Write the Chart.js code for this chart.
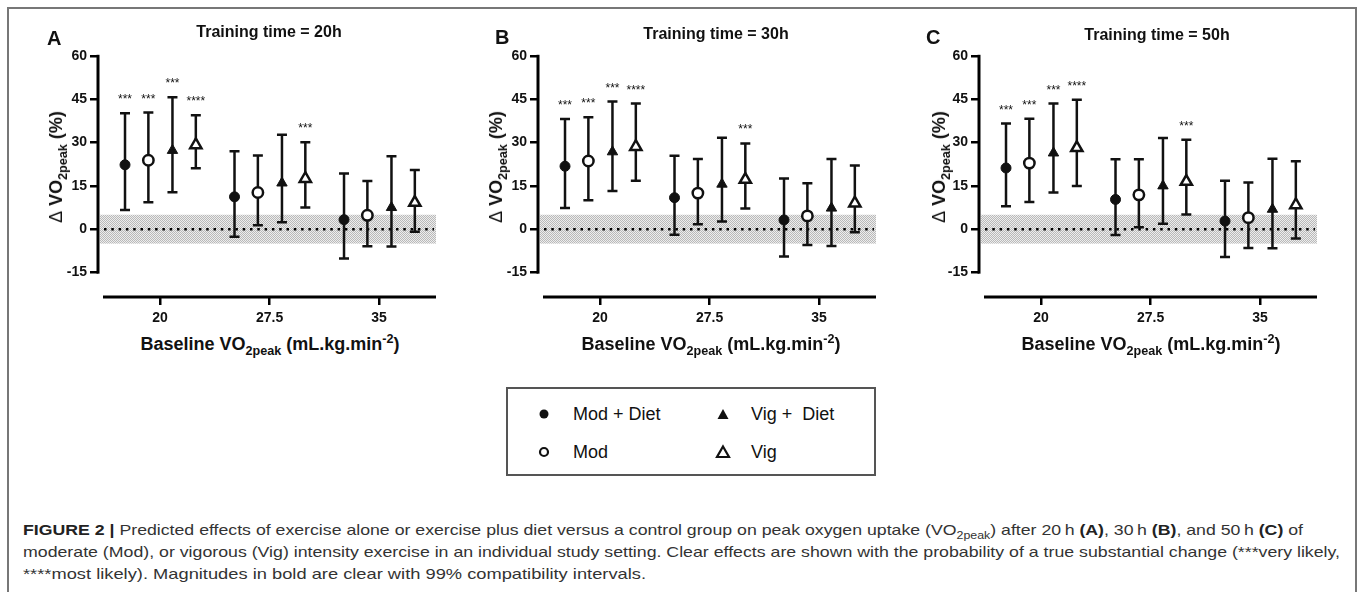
<!DOCTYPE html>
<html>
<head>
<meta charset="utf-8">
<script src="https://cdn.jsdelivr.net/npm/chart.js@4.4.0/dist/chart.umd.min.js"></script>
<style>
  html, body { margin:0; padding:0; background:#fff; }
  body { width:1357px; height:592px; overflow:hidden; position:relative; font-family:"Liberation Sans", Arial, sans-serif; color:#111; }
  .frame { position:absolute; left:7px; top:7px; width:1346px; height:700px; border:2px solid #777; box-sizing:content-box; }
  canvas.panel { position:absolute; top:0; }
  .t { position:absolute; white-space:nowrap; line-height:1; }
  .ptitle { font-weight:bold; font-size:16px; transform:translate(-50%,-50%); }
  .letter { font-weight:bold; font-size:20px; transform:translateY(-50%); }
  .ytitle { font-weight:bold; font-size:18px; transform:translate(-50%,-50%) rotate(-90deg); }
  .xtitle { font-weight:bold; font-size:18px; transform:translate(-50%,-50%); }
  sub, sup { font-size:70%; line-height:0; }
  .legend { position:absolute; left:506px; top:387px; width:366px; height:85px; border:2px solid #555; }
  .lgtext { position:absolute; font-size:18px; transform:translateY(-50%); white-space:nowrap; line-height:1; }
  .lgmark { position:absolute; transform:translate(-50%,-50%); }
  .cap { position:absolute; left:23px; font-size:15px; line-height:22px; color:#333; white-space:nowrap; transform-origin:0 50%; display:inline-block; }
  .cap b { color:#222; }
</style>
</head>
<body>
<div class="frame"></div>

<canvas id="cA" class="panel" width="450" height="330" style="left:0px"></canvas>
<canvas id="cB" class="panel" width="450" height="330" style="left:440px"></canvas>
<canvas id="cC" class="panel" width="450" height="330" style="left:881px"></canvas>

<div id="overlay"></div>

<div class="legend"></div>
<svg class="lgmark" style="left:544px;top:414px" width="14" height="14"><circle cx="7" cy="7" r="4.5" fill="#111"/></svg>
<div class="lgtext" style="left:573px;top:414px">Mod + Diet</div>
<svg class="lgmark" style="left:544px;top:452px" width="14" height="14"><circle cx="7" cy="7" r="4" fill="#fff" stroke="#111" stroke-width="2.2"/></svg>
<div class="lgtext" style="left:573px;top:452px">Mod</div>
<svg class="lgmark" style="left:723px;top:414px" width="14" height="14"><polygon points="7,2 12.5,12 1.5,12" fill="#111"/></svg>
<div class="lgtext" style="left:751px;top:414px">Vig +&nbsp; Diet</div>
<svg class="lgmark" style="left:723px;top:452px" width="16" height="16"><polygon points="8,2.5 14,13 2,13" fill="#fff" stroke="#111" stroke-width="2.2" stroke-linejoin="miter"/></svg>
<div class="lgtext" style="left:751px;top:452px">Vig</div>

<div class="cap" id="cap1" style="top:519px"><b>FIGURE 2 |</b> Predicted effects of exercise alone or exercise plus diet versus a control group on peak oxygen uptake (VO<sub>2peak</sub>) after 20&#8201;h <b>(A)</b>, 30&#8201;h <b>(B)</b>, and 50&#8201;h <b>(C)</b> of</div>
<div class="cap" id="cap2" style="top:541px">moderate (Mod), or vigorous (Vig) intensity exercise in an individual study setting. Clear effects are shown with the probability of a true substantial change (***very likely,</div>
<div class="cap" id="cap3" style="top:563px">****most likely). Magnitudes in bold are clear with 99% compatibility intervals.</div>

<script>
// ---------------- DATA ----------------
const categories = [20, 27.5, 35];
const seriesNames = ['Mod + Diet', 'Mod', 'Vig + Diet', 'Vig'];
const panelLetters = ['A', 'B', 'C'];
const panelTitles = ['Training time = 20h', 'Training time = 30h', 'Training time = 50h'];
const yTickValues = [-15, 0, 15, 30, 45, 60];
const trivialBand = [-5, 5];

// Panel A (20 h): [series][category]  series order: Mod+Diet, Mod, Vig+Diet, Vig
const mean20  = [[22.3, 11.2, 3.3], [23.9, 12.7, 4.8], [27.3, 16.0, 7.5], [29.2, 17.5, 9.2]];
const lower20 = [[6.6, -2.6, -10.2], [9.3, 1.4, -5.9], [12.8, 2.4, -6.0], [21.1, 7.5, -0.9]];
const upper20 = [[40.2, 27.0, 19.3], [40.4, 25.5, 16.7], [45.7, 32.7, 25.3], [39.5, 30.1, 20.5]];
const stars20 = [['***', '', ''], ['***', '', ''], ['***', '', ''], ['****', '***', '']];

// Panel B (30 h)
const mean30  = [[21.8, 10.9, 3.2], [23.6, 12.5, 4.6], [26.8, 15.6, 7.3], [28.6, 17.2, 9.0]];
const lower30 = [[7.3, -1.9, -9.5], [10.0, 1.7, -5.5], [13.2, 2.7, -5.8], [16.8, 7.2, -1.1]];
const upper30 = [[38.2, 25.4, 17.6], [38.8, 24.3, 15.9], [44.2, 31.7, 24.3], [43.5, 29.7, 22.1]];
const stars30 = [['***', '', ''], ['***', '', ''], ['***', '', ''], ['****', '***', '']];

// Panel C (50 h)
const mean50  = [[21.2, 10.3, 2.8], [22.9, 11.9, 4.0], [26.4, 15.0, 6.9], [28.2, 16.5, 8.4]];
const lower50 = [[7.9, -2.0, -9.6], [9.4, 0.7, -6.5], [12.7, 1.9, -6.6], [15.0, 5.1, -3.2]];
const upper50 = [[36.6, 24.2, 16.8], [38.3, 24.2, 16.2], [43.5, 31.6, 24.4], [44.8, 31.0, 23.5]];
const stars50 = [['***', '', ''], ['***', '', ''], ['***', '', ''], ['****', '***', '']];

// ---------------- STYLE ----------------
const FONT = '"Liberation Sans", Arial, sans-serif';
const dodge = [-2.4, -0.8, 0.85, 2.45];
const markerStyle = [
  { pointStyle: 'circle',   pointRadius: 5,   backgroundColor: '#111', borderColor: '#111', borderWidth: 1 },
  { pointStyle: 'circle',   pointRadius: 5.2, backgroundColor: '#fff', borderColor: '#111', borderWidth: 2.5 },
  { pointStyle: 'triangle', pointRadius: 6,   backgroundColor: '#111', borderColor: '#111', borderWidth: 1 },
  { pointStyle: 'triangle', pointRadius: 6.5, backgroundColor: '#fff', borderColor: '#111', borderWidth: 2.5 }
];

function makePattern() {
  const c = document.createElement('canvas');
  c.width = 2; c.height = 2;
  const g = c.getContext('2d');
  g.fillStyle = '#ededed'; g.fillRect(0, 0, 2, 2);
  g.fillStyle = '#b9b9b9'; g.fillRect(0, 0, 1, 1); g.fillRect(1, 1, 1, 1);
  return g.createPattern(c, 'repeat');
}

const prismPlugin = {
  id: 'prism',
  beforeDatasetsDraw(chart) {
    const { ctx, chartArea: a, scales: { x, y } } = chart;
    ctx.save();
    // trivial band
    ctx.fillStyle = makePattern();
    const bt = y.getPixelForValue(trivialBand[1]), bb = y.getPixelForValue(trivialBand[0]);
    ctx.fillRect(a.left + 2, bt, a.right - a.left - 2, bb - bt);
    // zero dotted line
    const y0 = y.getPixelForValue(0);
    ctx.strokeStyle = '#000';
    ctx.setLineDash([2.5, 4.8]);
    ctx.lineWidth = 2.5;
    ctx.beginPath(); ctx.moveTo(a.left + 6, y0); ctx.lineTo(a.right - 2, y0); ctx.stroke();
    ctx.setLineDash([]);
    // axes lines
    ctx.lineWidth = 3;
    const yTop = y.getPixelForValue(yTickValues[yTickValues.length - 1]);
    const yBot = y.getPixelForValue(yTickValues[0]);
    ctx.beginPath(); ctx.moveTo(a.left, yTop - 1.2); ctx.lineTo(a.left, yBot + 1.2); ctx.stroke();
    ctx.beginPath(); ctx.moveTo(a.left + 5, a.bottom); ctx.lineTo(a.right, a.bottom); ctx.stroke();
    // error bars
    ctx.strokeStyle = '#111';
    ctx.lineWidth = 2.5;
    chart.data.datasets.forEach(ds => {
      ds.data.forEach((pt, i) => {
        const px = x.getPixelForValue(pt.x);
        const lo = y.getPixelForValue(ds.lower[i]);
        const hi = y.getPixelForValue(ds.upper[i]);
        ctx.beginPath();
        ctx.moveTo(px, lo); ctx.lineTo(px, hi);
        ctx.moveTo(px - 5, lo); ctx.lineTo(px + 5, lo);
        ctx.moveTo(px - 5, hi); ctx.lineTo(px + 5, hi);
        ctx.stroke();
      });
    });
    ctx.restore();
  },
  afterDatasetsDraw(chart) {
    const { ctx, scales: { x, y } } = chart;
    ctx.save();
    ctx.fillStyle = '#111';
    ctx.font = '12px ' + FONT;
    ctx.textAlign = 'center';
    ctx.textBaseline = 'alphabetic';
    chart.data.datasets.forEach(ds => {
      ds.data.forEach((pt, i) => {
        const s = ds.stars[i];
        if (!s) return;
        const px = x.getPixelForValue(pt.x);
        const hi = y.getPixelForValue(ds.upper[i]);
        ctx.fillText(s, px, hi - 10);
      });
    });
    ctx.restore();
  }
};

function buildChart(canvasId, mean, lower, upper, stars) {
  const datasets = seriesNames.map((name, s) => Object.assign({
    label: name,
    data: categories.map((c, i) => ({ x: c + dodge[s], y: mean[s][i] })),
    lower: lower[s],
    upper: upper[s],
    stars: stars[s],
    showLine: false
  }, markerStyle[s]));

  return new Chart(document.getElementById(canvasId), {
    type: 'scatter',
    data: { datasets },
    plugins: [prismPlugin],
    options: {
      responsive: false,
      animation: false,
      events: [],
      layout: { padding: { left: 53, right: 14, top: 56, bottom: 3 } },
      plugins: { legend: { display: false }, tooltip: { enabled: false }, title: { display: false } },
      scales: {
        x: {
          type: 'linear', min: 15.75, max: 38.9,
          afterBuildTicks: sc => { sc.ticks = categories.map(v => ({ value: v })); },
          afterFit: sc => { sc.height = 30; },
          ticks: { font: { family: FONT, size: 14, weight: 'bold' }, color: '#111', padding: 5, maxRotation: 0, autoSkip: false, callback: v => String(v) },
          grid: { drawOnChartArea: false, drawTicks: true, tickLength: 8, color: '#000', lineWidth: 2.5 },
          border: { display: false }
        },
        y: {
          type: 'linear', min: -23.5, max: 60,
          afterBuildTicks: sc => { sc.ticks = yTickValues.map(v => ({ value: v })); },
          afterFit: sc => { sc.width = 45; },
          ticks: { font: { family: FONT, size: 14, weight: 'bold' }, color: '#111', padding: 3, autoSkip: false, callback: v => String(v) },
          grid: { drawOnChartArea: false, drawTicks: true, tickLength: 8, color: '#000', lineWidth: 2.5 },
          border: { display: false }
        }
      }
    }
  });
}

buildChart('cA', mean20, lower20, upper20, stars20);
buildChart('cB', mean30, lower30, upper30, stars30);
buildChart('cC', mean50, lower50, upper50, stars50);

// ---------------- TEXT OVERLAYS ----------------
const titlePos  = [[269, 32], [716, 34], [1157, 35]];
const letterPos = [[47, 38], [495, 37], [926, 37]];
const yTitlePos = [[56, 167], [496, 167], [939, 167]];
const xTitlePos = [[270, 344], [711, 344], [1151, 344]];
const ov = document.getElementById('overlay');
panelTitles.forEach((t, p) => {
  ov.insertAdjacentHTML('beforeend',
    `<div class="t ptitle" style="left:${titlePos[p][0]}px;top:${titlePos[p][1]}px">${t}</div>` +
    `<div class="t letter" style="left:${letterPos[p][0]}px;top:${letterPos[p][1]}px">${panelLetters[p]}</div>` +
    `<div class="t ytitle" style="left:${yTitlePos[p][0]}px;top:${yTitlePos[p][1]}px"><span style="font-weight:normal">&Delta;</span> VO<sub>2peak</sub> (%)</div>` +
    `<div class="t xtitle" style="left:${xTitlePos[p][0]}px;top:${xTitlePos[p][1]}px">Baseline VO<sub>2peak</sub> (mL.kg.min<sup>-2</sup>)</div>`);
});

// fit caption lines to the reference widths
const capTargets = { cap1: 1280, cap2: 1317, cap3: 623 };
Object.keys(capTargets).forEach(id => {
  const el = document.getElementById(id);
  const w = el.getBoundingClientRect().width;
  el.style.transform = `scaleX(${capTargets[id] / w})`;
});
</script>
</body>
</html>
